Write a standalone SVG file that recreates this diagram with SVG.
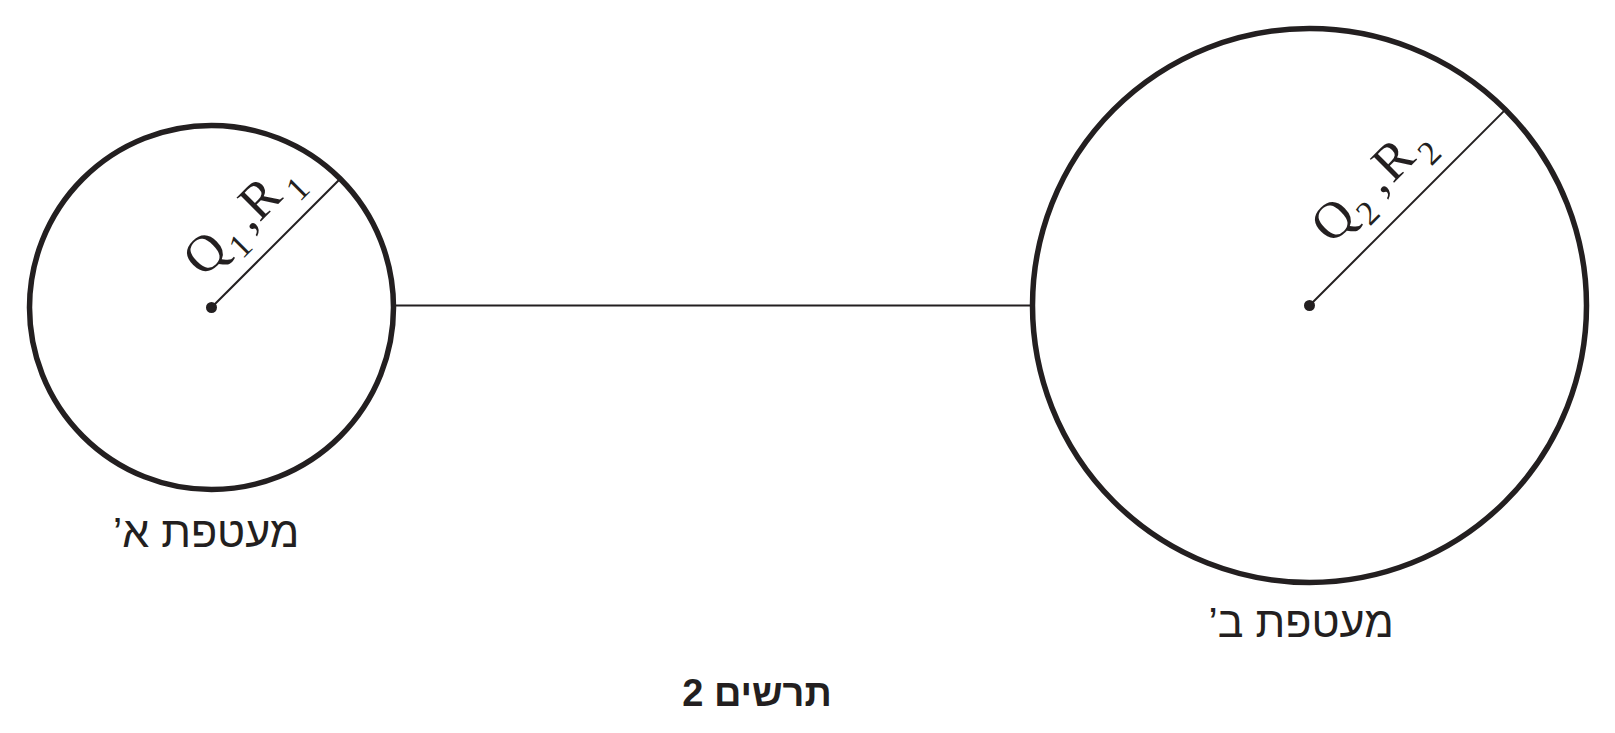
<svg xmlns="http://www.w3.org/2000/svg" width="1615" height="733" viewBox="0 0 1615 733">
<style>
.shell{fill:none;stroke:#231f20;stroke-width:5.5}
.thin{stroke:#231f20;stroke-width:2;fill:none}
.dot{fill:#231f20}
.lbl{font-family:"Liberation Serif","DejaVu Serif",serif;font-size:52px;fill:#231f20}
.sub{font-size:34px}
.heb{font-family:"Liberation Sans","DejaVu Sans",sans-serif;font-size:43px;fill:#231f20}
.title{font-family:"Liberation Sans","DejaVu Sans",sans-serif;font-size:38px;font-weight:bold;fill:#231f20}
</style>
<rect width="1615" height="733" fill="#ffffff"/>
<g id="connectors">
<line class="thin" x1="393" y1="305.5" x2="1032" y2="305.5"/>
</g>
<g id="shellA">
<circle class="shell" cx="211.5" cy="307.5" r="182"/>
<line class="thin" x1="211.5" y1="307.5" x2="340.2" y2="178.8"/>
<circle class="dot" cx="211.5" cy="307.5" r="5.5"/>
<g transform="translate(211.5,307.5) rotate(-45)">
<text class="lbl" x="15" y="-26">Q</text>
<text class="lbl sub" x="55.5" y="-12">1</text>
<text class="lbl" x="80.3" y="-26">,</text>
<text class="lbl" x="94" y="-26">R</text>
<text class="lbl sub" x="136.5" y="-12">1</text>
</g>
<text class="heb" x="206" y="547" text-anchor="middle" direction="rtl">מעטפת א’</text>
</g>
<g id="shellB">
<circle class="shell" cx="1309.5" cy="305.5" r="277"/>
<line class="thin" x1="1309.5" y1="305.5" x2="1505.4" y2="109.6"/>
<circle class="dot" cx="1309.5" cy="305.5" r="5.5"/>
<g transform="translate(1309.5,305.5) rotate(-45)">
<text class="lbl" x="58.3" y="-27">Q</text>
<text class="lbl sub" x="98.3" y="-13">2</text>
<text class="lbl" x="128.5" y="-27">,</text>
<text class="lbl" x="144.7" y="-27">R</text>
<text class="lbl sub" x="184.3" y="-12">2</text>
</g>
<text class="heb" x="1301" y="637" text-anchor="middle" direction="rtl">מעטפת ב’</text>
</g>
<g id="caption">
<text class="title" x="757" y="706" text-anchor="middle" direction="rtl">תרשים 2</text>
</g>
</svg>
